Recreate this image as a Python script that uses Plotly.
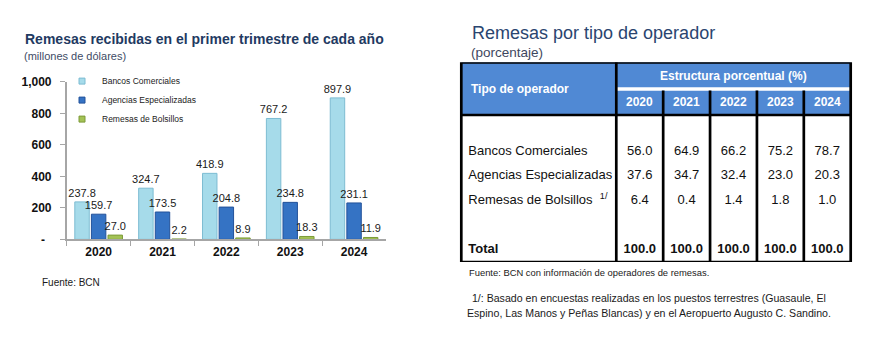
import plotly.graph_objects as go

# ---------------- data ----------------
YEARS = ["2020", "2021", "2022", "2023", "2024"]
SERIES_NAMES = ["Bancos Comerciales", "Agencias Especializadas", "Remesas de Bolsillos"]
BANCOS = [237.8, 324.7, 418.9, 767.2, 897.9]
AGENCIAS = [159.7, 173.5, 204.8, 234.8, 231.1]
BOLSILLOS = [27.0, 2.2, 8.9, 18.3, 11.9]
Y_TICKS = [0, 200, 400, 600, 800, 1000]
Y_TICK_TEXT = ["-\u00a0\u00a0", "200", "400", "600", "800", "1,000"]

TABLE_ROWS = ["Bancos Comerciales", "Agencias Especializadas", "Remesas de Bolsillos", "Total"]
PCT_BANCOS = [56.0, 64.9, 66.2, 75.2, 78.7]
PCT_AGENCIAS = [37.6, 34.7, 32.4, 23.0, 20.3]
PCT_BOLSILLOS = [6.4, 0.4, 1.4, 1.8, 1.0]
PCT_TOTAL = [100.0, 100.0, 100.0, 100.0, 100.0]

# ---------------- style ----------------
W, H = 869, 362
SANS = "Liberation Sans, Arial, sans-serif"
BAR_FILL = ["#A6DBEA", "#3573C4", "#A3C255"]
BAR_LINE = ["#7DBCD2", "#23529A", "#7C9A38"]
HEAD_BLUE = "#5089D4"


def px(x):
    return x / W


def py(y):
    return 1 - y / H


fig = go.Figure()

# ---------------- bar chart ----------------
for name, vals, fc, lc in zip(SERIES_NAMES, [BANCOS, AGENCIAS, BOLSILLOS], BAR_FILL, BAR_LINE):
    fig.add_trace(go.Bar(
        x=YEARS, y=vals, name=name, showlegend=False,
        marker=dict(color=fc, line=dict(color=lc, width=1)),
        text=[f"{v:.1f}" for v in vals], textposition="outside", constraintext="none",
        textfont=dict(family=SANS, size=11, color="#1a1a1a"),
        cliponaxis=False, xaxis="x", yaxis="y",
    ))
    # legend proxy with small square marker
    fig.add_trace(go.Scatter(
        x=[None], y=[None], mode="markers", name=name,
        marker=dict(symbol="square", size=6, color=fc, line=dict(color=lc, width=1)),
        xaxis="x", yaxis="y",
    ))

# ---------------- table (hidden axes x2/y2) ----------------
COL_LEFT = -3.306          # left border of the label column (table units)
UNIT = 46.88               # pixels per year column
XR = [-3.6, 5.1]           # x2 range (slightly wider than the table)
row_y = [1, 2, 3, 5]
labels = [TABLE_ROWS[0], TABLE_ROWS[1],
          TABLE_ROWS[2] + "\u00a0\u00a0<sup>1/</sup>", "<b>" + TABLE_ROWS[3] + "</b>"]
fig.add_trace(go.Scatter(
    x=[COL_LEFT + 0.15] * 4, y=row_y, mode="text", text=labels,
    textposition="middle right", textfont=dict(family=SANS, size=13, color="#111111"),
    showlegend=False, hoverinfo="skip", xaxis="x2", yaxis="y2", cliponaxis=False,
))
col_x = [i + 0.5 for i in range(len(YEARS))]
for r, vals in zip(row_y, [PCT_BANCOS, PCT_AGENCIAS, PCT_BOLSILLOS, PCT_TOTAL]):
    txt = [f"{v:.1f}" for v in vals]
    if r == 5:
        txt = ["<b>" + t + "</b>" for t in txt]
    fig.add_trace(go.Scatter(
        x=col_x, y=[r] * len(vals), mode="text", text=txt,
        textposition="middle center", textfont=dict(family=SANS, size=13, color="#111111"),
        showlegend=False, hoverinfo="skip", xaxis="x2", yaxis="y2", cliponaxis=False,
    ))

TOP, SEP, HB, BOT = -2.65, -1.56, -0.5, 5.5
shapes = [
    dict(type="rect", xref="x2", yref="y2", x0=COL_LEFT, x1=5, y0=TOP, y1=HB,
         fillcolor=HEAD_BLUE, line=dict(width=0), layer="below"),
    dict(type="line", xref="x2", yref="y2", x0=0, x1=5, y0=SEP, y1=SEP,
         line=dict(color="white", width=3.3)),
    dict(type="line", xref="x2", yref="y2", x0=COL_LEFT, x1=5, y0=HB, y1=HB,
         line=dict(color="black", width=2.7)),
    dict(type="line", xref="x2", yref="y2", x0=0, x1=0, y0=TOP, y1=BOT,
         line=dict(color="black", width=2.7)),
]
for i in range(1, 5):
    shapes.append(dict(type="line", xref="x2", yref="y2", x0=i, x1=i, y0=-1.5, y1=BOT,
                       line=dict(color="black", width=2.7)))
shapes.append(dict(type="rect", xref="x2", yref="y2", x0=COL_LEFT, x1=5, y0=TOP, y1=BOT,
                   line=dict(color="black", width=2.7)))

annotations = []
HEAD_FONT = dict(family=SANS, size=12, color="white", weight="bold")
annotations.append(dict(xref="x2", yref="y2", x=COL_LEFT + 0.17, y=-1.57, text="Tipo de operador",
                        showarrow=False, xanchor="left", yanchor="middle", font=HEAD_FONT))
annotations.append(dict(xref="x2", yref="y2", x=2.5, y=-2.11, text="Estructura porcentual (%)",
                        showarrow=False, xanchor="center", yanchor="middle", font=HEAD_FONT))
for i, yr in enumerate(YEARS):
    annotations.append(dict(xref="x2", yref="y2", x=i + 0.5, y=-1.03, text=yr,
                            showarrow=False, xanchor="center", yanchor="middle",
                            font=HEAD_FONT))

# titles and notes
annotations += [
    dict(xref="paper", yref="paper", x=px(23), y=py(33.3), xanchor="left", yanchor="middle",
         text="Remesas recibidas en el primer trimestre de cada año", showarrow=False,
         font=dict(family=SANS, size=14, color="#1F3A62", weight="bold")),
    dict(xref="paper", yref="paper", x=px(22), y=py(51), xanchor="left", yanchor="middle",
         text="(millones de dólares)", showarrow=False,
         font=dict(family=SANS, size=11, color="#3E4B66")),
    dict(xref="paper", yref="paper", x=px(40), y=py(286.7), xanchor="left", yanchor="middle",
         text="Fuente: BCN", showarrow=False,
         font=dict(family=SANS, size=10, color="#1a1a1a")),
    dict(xref="paper", yref="paper", x=px(470), y=py(26.7), xanchor="left", yanchor="middle",
         text="Remesas por tipo de operador", showarrow=False,
         font=dict(family=SANS, size=18, color="#2A4570")),
    dict(xref="paper", yref="paper", x=px(468.5), y=py(47.5), xanchor="left", yanchor="middle",
         text="(porcentaje)", showarrow=False,
         font=dict(family=SANS, size=13.5, color="#3E4760")),
    dict(xref="paper", yref="paper", x=px(467), y=py(276.7), xanchor="left", yanchor="middle",
         text="Fuente: BCN con información de operadores de remesas.", showarrow=False,
         font=dict(family=SANS, size=9.4, color="#1a1a1a")),
    dict(xref="paper", yref="paper", x=px(467), y=py(302.7), xanchor="left", yanchor="middle",
         showarrow=False,
         text="\u00a01/: Basado en encuestas realizadas en los puestos terrestres (Guasaule, El",
         font=dict(family=SANS, size=10.6, color="#1a1a1a")),
    dict(xref="paper", yref="paper", x=px(465), y=py(318.7), xanchor="left", yanchor="middle",
         showarrow=False,
         text="Espino, Las Manos y Peñas Blancas) y en el Aeropuerto Augusto C. Sandino.",
         font=dict(family=SANS, size=10.6, color="#1a1a1a")),
]

fig.update_layout(
    width=W, height=H, autosize=False,
    margin=dict(l=0, r=0, t=0, b=0),
    paper_bgcolor="white", plot_bgcolor="white",
    barmode="group", bargap=0.22, bargroupgap=0.13,
    showlegend=True,
    legend=dict(x=px(62), y=py(62), xanchor="left", yanchor="top",
                bgcolor="rgba(0,0,0,0)", font=dict(family=SANS, size=8.5, color="#222222"),
                itemclick=False, itemdoubleclick=False),
    xaxis=dict(domain=[px(66.7), px(386)], type="category", showline=True,
               linecolor="#A6A6A6", linewidth=1.5, ticks="outside", tickson="boundaries",
               ticklen=5, tickcolor="#A6A6A6", tickwidth=1,
               tickfont=dict(family=SANS, size=12, color="#111111", weight="bold"),
               showgrid=False, zeroline=False, fixedrange=True, anchor="y"),
    yaxis=dict(domain=[py(241.7), py(77.8)], range=[0, 1000], tickvals=Y_TICKS,
               ticktext=Y_TICK_TEXT, showline=True, linecolor="#A6A6A6", linewidth=1.5,
               ticks="outside", ticklen=5, tickcolor="#A6A6A6", tickwidth=1,
               ticklabelstandoff=6,
               tickfont=dict(family=SANS, size=12, color="#111111", weight="bold"),
               showgrid=False, zeroline=False, fixedrange=True, anchor="x"),
    xaxis2=dict(domain=[px(461.3 + (XR[0] - COL_LEFT) * UNIT), px(850.7 + (XR[1] - 5) * UNIT)],
                range=XR, visible=False, fixedrange=True, anchor="y2"),
    yaxis2=dict(domain=[py(265.3), py(57.5)], range=[BOT, TOP], visible=False,
                fixedrange=True, anchor="x2"),
    shapes=shapes,
    annotations=annotations,
)

fig.write_html("out.html", config={"displayModeBar": False},
               post_script="document.body.style.margin='0';document.body.style.padding='0';")
